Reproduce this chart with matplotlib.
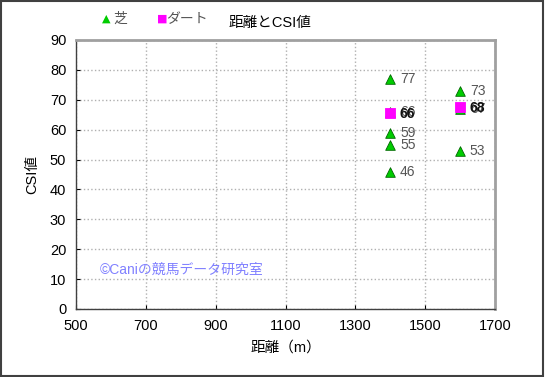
import matplotlib
matplotlib.use("Agg")
import matplotlib.pyplot as plt
from matplotlib.patches import Rectangle

plt.rcParams['font.family'] = ['Liberation Sans', 'Noto Sans CJK JP', 'DejaVu Sans']

turf_dist = [1400, 1400, 1400, 1400, 1400, 1600, 1600, 1600]
turf_csi = [77, 66, 59, 55, 46, 73, 67, 53]
dirt_dist = [1400, 1600]
dirt_csi = [65.5, 67.5]
dirt_labels = ["66", "68"]
turf_labels = ["77", "66", "59", "55", "46", "73", "67", "53"]

xticks = [500, 700, 900, 1100, 1300, 1500, 1700]
yticks = list(range(0, 91, 10))

fig = plt.figure(figsize=(5.45, 3.77), dpi=100)
fig.patches.append(Rectangle((0.002, 0.003), 0.994, 0.994, transform=fig.transFigure,
                             fill=False, edgecolor='#404040', linewidth=1.5))
ax = fig.add_axes([76/545, 1-309/377, (495-76)/545, (309-40)/377])

ax.scatter(turf_dist, turf_csi, marker='^', s=48, color='#00cc00', edgecolor='#006600',
           linewidth=0.6, zorder=3)
ax.scatter(dirt_dist, dirt_csi, marker='s', s=42, color='#ff00ff', edgecolor='#ff00ff',
           linewidth=0.6, zorder=4)
for x, y, t in zip(turf_dist, turf_csi, turf_labels):
    ax.annotate(t, (x, y), xytext=(7, 0), textcoords='offset points', va='center',
                fontsize=10, color='#555555')
for x, y, t in zip(dirt_dist, dirt_csi, dirt_labels):
    ax.annotate(t, (x, y), xytext=(7, -0.5), textcoords='offset points', va='center',
                fontsize=10, color='#111111', fontweight='bold')

ax.set_xlim(500, 1700)
ax.set_ylim(0, 90)
ax.set_xticks(xticks)
ax.set_yticks(yticks)
ax.tick_params(direction='in', length=3, labelsize=10.5, colors='#000000')
ax.tick_params(axis='y', pad=7)
ax.tick_params(axis='x', pad=7)
ax.grid(True, color='#b0b0b0', linestyle=':', linewidth=1)
for s in ['left', 'bottom']:
    ax.spines[s].set_color('#404040')
    ax.spines[s].set_linewidth(1)
for s in ['top', 'right']:
    ax.spines[s].set_color('#a0a0a0')
    ax.spines[s].set_linewidth(2)

ax.set_xlabel('距離（m）', fontsize=10.5, labelpad=6)
ax.set_ylabel('CSI値', fontsize=10.5, labelpad=8)

fig.text(270/545, 1-23/377, '距離とCSI値', ha='center', va='center', fontsize=10.5)
fig.text(102/545, 1-19/377, '▲', color='#00cc00', fontsize=8, ha='left', va='center',
         family=['DejaVu Sans'])
fig.text(113/545, 1-19/377, '芝', color='#555555', fontsize=10, ha='left', va='center')
fig.text(157/545, 1-19/377, '■', color='#ff00ff', fontsize=8, ha='left', va='center',
         family=['DejaVu Sans'])
fig.text(166/545, 1-19/377, 'ダート', color='#555555', fontsize=10, ha='left', va='center')

ax.text(568, 13, '©Caniの競馬データ研究室', fontsize=10, color='#8080ff', ha='left', va='center')

fig.savefig('out.png', dpi=100)
